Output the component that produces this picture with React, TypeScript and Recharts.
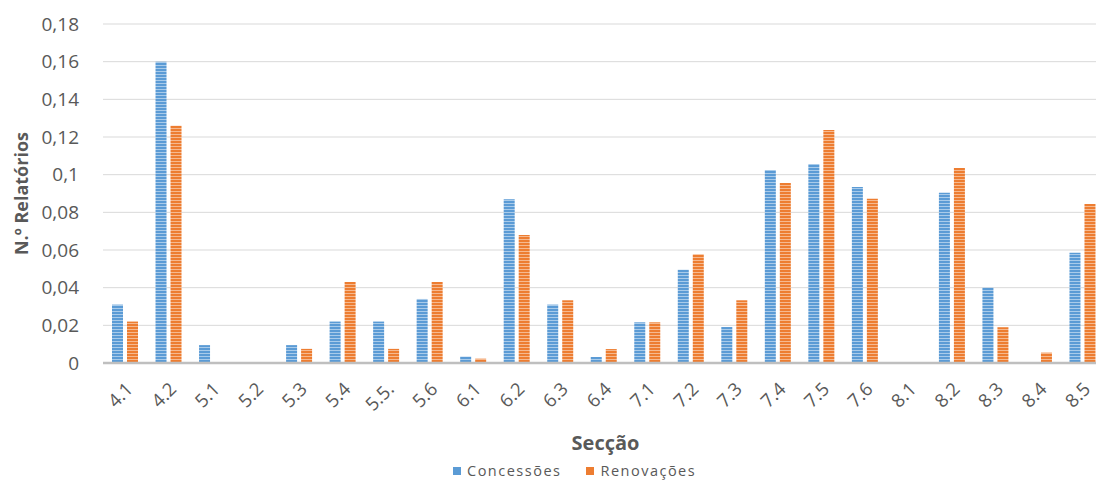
import React from 'react';
import { BarChart, Bar, XAxis, YAxis, CartesianGrid, Legend } from 'recharts';

// Secções do relatório
const categories = ['4.1', '4.2', '5.1', '5.2', '5.3', '5.4', '5.5.', '5.6', '6.1', '6.2', '6.3', '6.4', '7.1', '7.2', '7.3', '7.4', '7.5', '7.6', '8.1', '8.2', '8.3', '8.4', '8.5'];

// N.º de relatórios por secção (fração)
const concessoes = [0.031, 0.16, 0.0095, 0, 0.0095, 0.022, 0.022, 0.034, 0.0034, 0.087, 0.031, 0.0032, 0.0216, 0.0495, 0.0191, 0.1025, 0.1057, 0.0934, 0, 0.0904, 0.04, 0, 0.0586];
const renovacoes = [0.022, 0.126, 0, 0, 0.0075, 0.043, 0.0075, 0.043, 0.0023, 0.068, 0.0333, 0.0074, 0.0216, 0.0577, 0.0333, 0.0956, 0.1237, 0.0872, 0, 0.1035, 0.019, 0.0055, 0.0844];

const yTicks = [0, 0.02, 0.04, 0.06, 0.08, 0.1, 0.12, 0.14, 0.16, 0.18];

const seriesNames = ['Concessões', 'Renovações'];
const BLUE = '#5B9BD5';
const ORANGE = '#ED7D31';

const data = categories.map((c, i) => ({
  name: c,
  concessoes: concessoes[i],
  renovacoes: renovacoes[i],
}));

const FONT = '"Open Sans", sans-serif';
const TEXT = '#595959';

const fmt = (v: number) => String(v).replace('.', ',');

function LegendContent() {
  const items = [
    { label: seriesNames[0], color: BLUE },
    { label: seriesNames[1], color: ORANGE },
  ];
  return (
    <div style={{ display: 'flex', alignItems: 'center', height: 24, paddingTop: 5, boxSizing: 'border-box', fontFamily: FONT, fontSize: 14.5, color: TEXT, letterSpacing: 1.5 }}>
      {items.map((it, i) => (
        <div key={it.label} style={{ display: 'flex', alignItems: 'center', marginRight: i === 0 ? 25 : 0 }}>
          <span style={{ display: 'inline-block', width: 8, height: 8, background: it.color, marginRight: 6 }} />
          <span>{it.label}</span>
        </div>
      ))}
    </div>
  );
}

export default function App() {
  return (
    <div style={{ position: 'absolute', left: 0, top: 0, width: 1096, height: 480, overflow: 'hidden', background: '#fff' }}>
      <BarChart
        width={1104}
        height={480}
        data={data}
        margin={{ top: 24, right: 0, bottom: 0, left: 0 }}
        barSize={11}
        barGap={4}
      >
        <defs>
          <pattern id="stripeBlue" width="4" height="3" patternUnits="userSpaceOnUse">
            <rect width="4" height="3" fill={BLUE} />
            <rect y="2" width="4" height="1" fill="#A9CBEA" />
          </pattern>
          <pattern id="stripeOrange" width="4" height="3" patternUnits="userSpaceOnUse">
            <rect width="4" height="3" fill={ORANGE} />
            <rect y="2" width="4" height="1" fill="#F6B98F" />
          </pattern>
        </defs>
        <CartesianGrid vertical={false} stroke="#d9d9d9" strokeWidth={1} />
        <XAxis
          dataKey="name"
          interval={0}
          height={93}
          tickLine={false}
          axisLine={{ stroke: '#bfbfbf', strokeWidth: 2.5 }}
          angle={-45}
          textAnchor="end"
          tick={{ fill: TEXT, fontSize: 18.5, fontFamily: FONT }}
          tickMargin={12}
          label={{
            content: (props: any) => {
              const vb = props.viewBox || {};
              return (
                <text x={vb.x + vb.width / 2 + 2} y={vb.y + 87} textAnchor="middle" fill={TEXT} fontFamily={FONT} fontSize={20} fontWeight="bold">
                  Secção
                </text>
              );
            },
          }}
        />
        <YAxis
          width={103}
          domain={[0, 0.18]}
          ticks={yTicks}
          tickFormatter={fmt}
          tickLine={false}
          axisLine={false}
          tickMargin={18}
          tick={{ fill: TEXT, fontSize: 19, fontFamily: FONT }}
          label={{
            content: (props: any) => {
              const vb = props.viewBox || {};
              const cx = vb.x + 28;
              const cy = vb.y + vb.height / 2;
              return (
                <text x={cx} y={cy} transform={`rotate(-90, ${cx}, ${cy})`} textAnchor="middle" fill={TEXT} fontFamily={FONT} fontSize={18} fontWeight="bold">
                  N.º Relatórios
                </text>
              );
            },
          }}
        />
        <Legend
          verticalAlign="bottom"
          height={24}
          content={<LegendContent />}
          wrapperStyle={{ left: 453, width: 320 }}
        />
        <Bar dataKey="concessoes" name={seriesNames[0]} fill="url(#stripeBlue)" isAnimationActive={false} />
        <Bar dataKey="renovacoes" name={seriesNames[1]} fill="url(#stripeOrange)" isAnimationActive={false} />
      </BarChart>
    </div>
  );
}
